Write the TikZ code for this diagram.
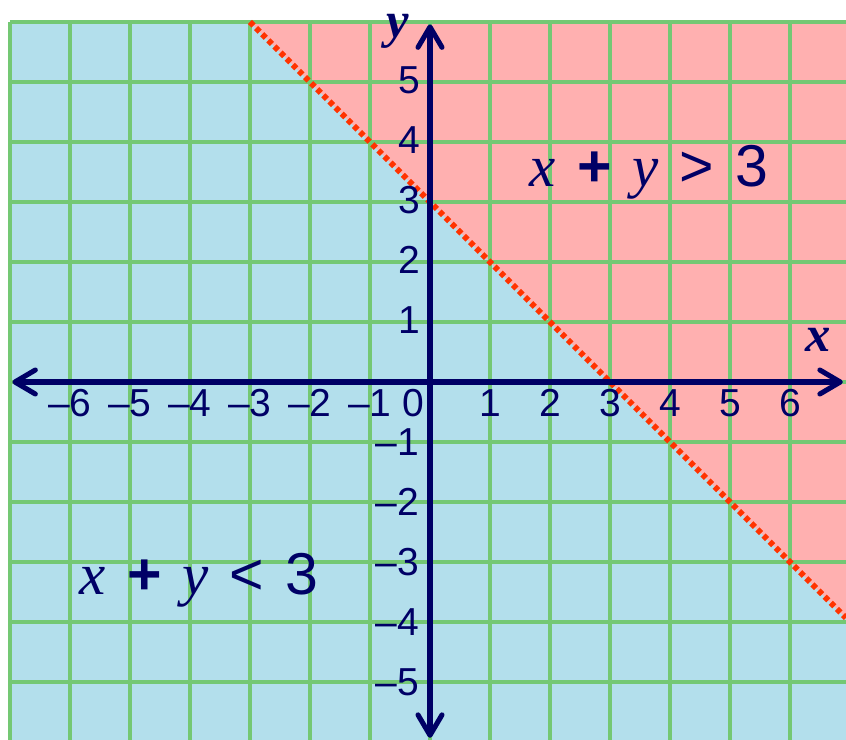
\documentclass[tikz,border=0pt]{standalone}
\usepackage{fontspec}
\setmainfont{Liberation Sans}
\newfontfamily\letterfont{Liberation Serif}
\usetikzlibrary{arrows.meta}

\definecolor{navyblue}{RGB}{0,0,102}
\definecolor{skyfill}{RGB}{179,223,236}
\definecolor{pinkfill}{RGB}{255,176,176}
\definecolor{gridgreen}{RGB}{116,200,116}
\definecolor{dotred}{RGB}{255,51,0}

\newcommand\ineqgap{\hspace{10pt}}

\begin{document}
\begin{tikzpicture}[
    font=\fontsize{18.5}{20}\selectfont,
    % Style for the two axes
    axis/.style={
        line width=2.4pt, navyblue, line cap=round, line join=round,
        {Straight Barb[length=3.4mm, width=4mm, round]}-{Straight Barb[length=3.4mm, width=4mm, round]}
    },
    % Style for the grid lines
    gridline/.style={
        line width=1.5pt,
        gridgreen
    },
    % Style for the boundary x+y=3
    boundary/.style={
        line width=2.8pt, dotred,
        dash pattern=on 2.4pt off 1.7pt
    },
    ticklabel/.style={text=navyblue, inner sep=0pt},
    axislabel/.style={text=navyblue, font=\fontsize{24}{26}\selectfont\letterfont\bfseries\itshape},
    ineq/.style={text=navyblue, font=\fontsize{28}{30}\selectfont}
]
\useasboundingbox (-7.1667,-5.9667) rectangle (6.9333,6.3667);

% --- Regions ---
\fill[skyfill] (-7,-5.9667) rectangle (6.9333,6);
\fill[pinkfill] (-3,6) -- (6.9333,6) -- (6.9333,-3.9333) -- cycle;

% --- Grid ---
\draw[gridline, step=1] (-7,-5.9667) grid (6.9333,6);

% --- Boundary line (dotted, not included) ---
\draw[boundary] (-3,6) -- (6.9333,-3.9333);

% --- Axes ---
\draw[axis] (-6.96,0) -- (6.88,0);
\draw[axis] (0,-5.93) -- (0,5.96);
\node[axislabel] (xlab) at (6.47,0.7) {x};
\node[axislabel] (ylab) at (-0.53,5.85) {y};

% --- Tick labels ---
\foreach \i in {-6,...,-1}
    \node[ticklabel] at (\i,-0.35) {–\the\numexpr-\i\relax};
\foreach \i in {1,...,6}
    \node[ticklabel] at (\i,-0.35) {\i};
\foreach \j in {1,...,5}
    \node[ticklabel, anchor=east] at (-0.15,\j+0.03) {\j};
\foreach \j in {-5,...,-1}
    \node[ticklabel, anchor=east] at (-0.17,\j) {–\the\numexpr-\j\relax};
\node[ticklabel] (zero) at (-0.27,-0.35) {0};

% --- The two half-planes ---
\node[ineq] (above) at (3.65,3.5) {{\letterfont\itshape x}\ineqgap\textbf{+}\ineqgap{\letterfont\itshape y}\ineqgap>\ineqgap3};
\node[ineq] (below) at (-3.85,-3.3) {{\letterfont\itshape x}\ineqgap\textbf{+}\ineqgap{\letterfont\itshape y}\ineqgap<\ineqgap3};

\end{tikzpicture}
\end{document}
